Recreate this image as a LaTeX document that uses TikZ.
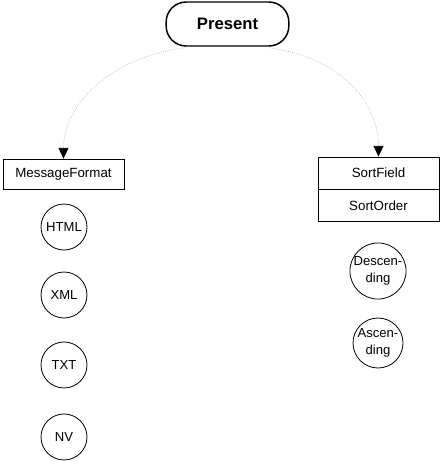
\documentclass[tikz,border=0pt]{standalone}
\usepackage{fontspec}
\setmainfont{Liberation Sans}
\usetikzlibrary{arrows.meta, positioning, calc}

\begin{document}
\begin{tikzpicture}[x=0.75pt, y=-0.75pt,
        top/.style={draw=black, line width=1.1pt, rounded corners=15pt, minimum width=92pt, minimum height=33pt, inner sep=0pt, font=\fontsize{12.5}{15}\selectfont\bfseries},
        field/.style={draw=black, line width=0.6pt, minimum width=90.75pt, inner sep=0pt, font=\fontsize{10}{12}\selectfont},
        value/.style={draw=black, circle, line width=0.6pt, minimum size=34.5pt, inner sep=0pt, align=center, font=\fontsize{9.8}{12.5}\selectfont},
        link/.style={draw=gray!60, densely dotted, line width=0.5pt, -{Triangle[length=8pt, width=7.5pt, color=black]}}]
        \useasboundingbox (0, 0) rectangle (440, 468);

        \node[top] (present) at (227.5, 24) {Present};

        \node[field, minimum height=22.5pt] (msg) at (63.5, 174) {MessageFormat};
        \node[field, minimum height=24pt] (sortfield) at (378.5, 173) {SortField};
        \node[field, minimum height=24pt, below=0pt of sortfield] (sortorder) {SortOrder};

        \node[value] (html) at (64, 227) {HTML};
        \node[value] (xml) at (64, 295) {XML};
        \node[value] (txt) at (64, 365) {TXT};
        \node[value] (nv) at (64, 437) {NV};

        \node[value, minimum size=37.5pt] (desc) at (378, 271) {Descen-\\ding};
        \node[value, minimum size=37.5pt] (asc) at (378, 343) {Ascen-\\ding};

        \draw[link] ($(present.south)+(-42, 1)$) .. controls +(-78, 10) and +(0, -52) .. (msg.north);
        \draw[link] ($(present.south)+(41, 1)$) .. controls +(75, 10) and +(0, -52) .. (sortfield.north);

\end{tikzpicture}
\end{document}
